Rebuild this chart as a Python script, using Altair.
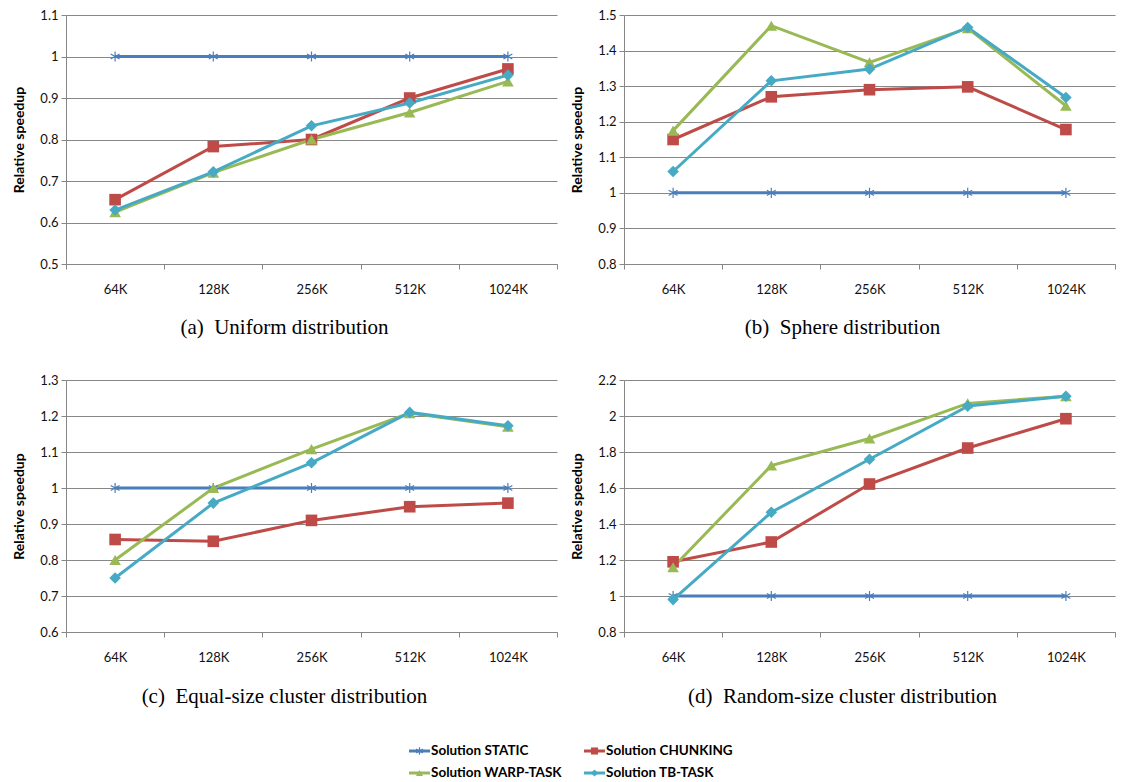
import altair as alt
import pandas as pd

sizes = ["64K", "128K", "256K", "512K", "1024K"]
series = ["Solution STATIC", "Solution CHUNKING", "Solution WARP-TASK", "Solution TB-TASK"]
colors = ["#4A7EBB", "#BE4B48", "#98B954", "#46AAC5"]

# (a) Uniform distribution
uni_static = [1.0, 1.0, 1.0, 1.0, 1.0]
uni_chunking = [0.655, 0.783, 0.800, 0.900, 0.970]
uni_warp = [0.625, 0.720, 0.800, 0.865, 0.940]
uni_tb = [0.630, 0.722, 0.833, 0.888, 0.955]

# (b) Sphere distribution
sph_static = [1.0, 1.0, 1.0, 1.0, 1.0]
sph_chunking = [1.150, 1.270, 1.290, 1.298, 1.178]
sph_warp = [1.175, 1.470, 1.367, 1.463, 1.245]
sph_tb = [1.060, 1.315, 1.348, 1.465, 1.268]

# (c) Equal-size cluster distribution
eq_static = [1.0, 1.0, 1.0, 1.0, 1.0]
eq_chunking = [0.857, 0.852, 0.910, 0.948, 0.958]
eq_warp = [0.800, 1.000, 1.108, 1.208, 1.170]
eq_tb = [0.750, 0.958, 1.070, 1.210, 1.173]

# (d) Random-size cluster distribution
rnd_static = [1.0, 1.0, 1.0, 1.0, 1.0]
rnd_chunking = [1.190, 1.300, 1.622, 1.822, 1.985]
rnd_warp = [1.160, 1.725, 1.875, 2.070, 2.110]
rnd_tb = [0.980, 1.465, 1.760, 2.055, 2.110]

ticks_a = [0.5, 0.6, 0.7, 0.8, 0.9, 1.0, 1.1]
ticks_b = [0.8, 0.9, 1.0, 1.1, 1.2, 1.3, 1.4, 1.5]
ticks_c = [0.6, 0.7, 0.8, 0.9, 1.0, 1.1, 1.2, 1.3]
ticks_d = [0.8, 1.0, 1.2, 1.4, 1.6, 1.8, 2.0, 2.2]

captions = [
    "(a)\u00a0 Uniform distribution",
    "(b)\u00a0 Sphere distribution",
    "(c)\u00a0 Equal-size cluster distribution",
    "(d)\u00a0 Random-size cluster distribution",
]

STAR = "M0,-1L0,1M-0.866,-0.5L0.866,0.5M-0.866,0.5L0.866,-0.5"
GRID = "#878787"
SANS = "Lato"
PW = 491


def panel(vals, ticks, caption, ph, title_y):
    rows = []
    for s, v in zip(series, vals):
        for c, y in zip(sizes, v):
            rows.append({"size": c, "series": s, "value": y})
    df = pd.DataFrame(rows)
    x = alt.X(
        "size:N", sort=sizes, bandPosition=0.5,
        scale=alt.Scale(type="band", paddingInner=0, paddingOuter=0),
        axis=alt.Axis(
            title=caption, tickBand="extent", grid=False, labelAngle=0,
            labelFont=SANS, labelFontSize=13, labelColor="#111", labelPadding=14,
            domainColor=GRID, tickColor=GRID, tickSize=5,
            titleFont="Liberation Serif", titleFontSize=21, titleFontWeight="normal",
            titleColor="#000", titleX=218, titleY=title_y, titleBaseline="alphabetic",
            titleAlign="center",
        ),
    )
    y = alt.Y(
        "value:Q",
        scale=alt.Scale(domain=[ticks[0], ticks[-1]], nice=False, zero=False),
        axis=alt.Axis(
            values=ticks, format="~g", title="Relative speedup", grid=True,
            gridColor=GRID, domainColor=GRID, tickColor=GRID, tickSize=5,
            labelFont=SANS, labelFontSize=13, labelColor="#111", labelPadding=3,
            titleFont=SANS, titleFontSize=14, titleFontWeight="bold", titleColor="#000",
            titlePadding=13,
        ),
    )
    color = alt.Color("series:N", scale=alt.Scale(domain=series, range=colors), legend=None)
    base = alt.Chart(df).encode(x=x, y=y, color=color)
    lines = base.mark_line(strokeWidth=3)
    pts_static = base.transform_filter(alt.datum.series == series[0]).mark_point(
        filled=False, shape=STAR, size=105, strokeWidth=1.2, opacity=1
    )
    pts_other = base.transform_filter(alt.datum.series != series[0]).mark_point(
        filled=True, size=135, opacity=1
    ).encode(
        shape=alt.Shape("series:N", scale=alt.Scale(domain=series[1:], range=["square", "triangle-up", "diamond"]), legend=None)
    )
    return alt.layer(lines, pts_static, pts_other).properties(width=PW, height=ph)


pa = panel([uni_static, uni_chunking, uni_warp, uni_tb], ticks_a, captions[0], 249, 69)
pb = panel([sph_static, sph_chunking, sph_warp, sph_tb], ticks_b, captions[1], 249, 69)
pc = panel([eq_static, eq_chunking, eq_warp, eq_tb], ticks_c, captions[2], 252, 70)
pd_ = panel([rnd_static, rnd_chunking, rnd_warp, rnd_tb], ticks_d, captions[3], 252, 70)

# legend
LW, LH = 800, 40
BASE = 343
leg_df = pd.DataFrame({"series": series, "idx": list(range(len(series)))})
leg_base = alt.Chart(leg_df).transform_calculate(
    col="datum.idx % 2",
    row="floor(datum.idx / 2)",
).transform_calculate(
    x0=f"{BASE} + datum.col * 175",
    yy="8 + datum.row * 22",
).transform_calculate(
    x1="datum.x0 + 21",
    xm="datum.x0 + 10.5",
    xt="datum.x0 + 22",
)
lx = alt.Scale(domain=[0, LW], range=[0, LW])
ly = alt.Scale(domain=[0, LH], reverse=True)
lcolor = alt.Color("series:N", scale=alt.Scale(domain=series, range=colors), legend=None)
leg_line = leg_base.mark_rule(strokeWidth=3).encode(
    x=alt.X("x0:Q", scale=lx, axis=None), x2="x1:Q",
    y=alt.Y("yy:Q", scale=ly, axis=None), color=lcolor,
)
leg_star = leg_base.transform_filter(alt.datum.idx == 0).mark_point(
    filled=False, shape=STAR, size=60, strokeWidth=1.2, opacity=1
).encode(x=alt.X("xm:Q", scale=lx, axis=None), y=alt.Y("yy:Q", scale=ly, axis=None), color=lcolor)
leg_pts = leg_base.transform_filter(alt.datum.idx > 0).mark_point(
    filled=True, size=50, opacity=1
).encode(
    x=alt.X("xm:Q", scale=lx, axis=None), y=alt.Y("yy:Q", scale=ly, axis=None), color=lcolor,
    shape=alt.Shape("series:N", scale=alt.Scale(domain=series[1:], range=["square", "triangle-up", "diamond"]), legend=None),
)
leg_text = leg_base.mark_text(align="left", baseline="middle", font=SANS, fontSize=13.5, fontWeight="bold", color="#000").encode(
    x=alt.X("xt:Q", scale=lx, axis=None), y=alt.Y("yy:Q", scale=ly, axis=None), text="series:N",
)
legend = alt.layer(leg_line, leg_star, leg_pts, leg_text).properties(width=LW, height=LH)

row1 = alt.hconcat(pa, pb, spacing=12)
row2 = alt.hconcat(pc, pd_, spacing=12)
chart = alt.vconcat(row1, row2, legend, spacing=37).properties(
    padding={"left": 4, "top": 1, "right": 0, "bottom": 0}
).configure_view(stroke=None)

chart.save("out.html", embed_options={"renderer": "svg", "actions": False})
